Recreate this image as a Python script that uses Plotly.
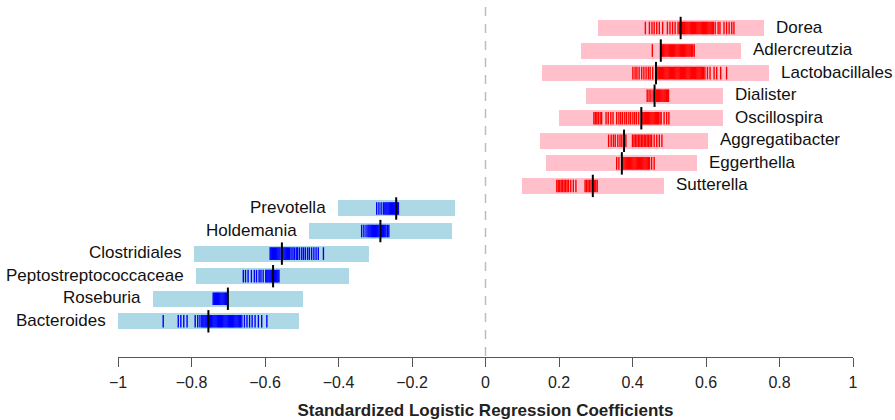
import plotly.graph_objects as go

# ---------------- data ----------------
taxa = ["Dorea", "Adlercreutzia", "Lactobacillales", "Dialister", "Oscillospira",
        "Aggregatibacter", "Eggerthella", "Sutterella", "Prevotella", "Holdemania",
        "Clostridiales", "Peptostreptococcaceae", "Roseburia", "Bacteroides"]

ci_low = [0.305, 0.259, 0.155, 0.273, 0.200, 0.147, 0.165, 0.099,
          -0.402, -0.480, -0.792, -0.789, -0.906, -0.999]
ci_high = [0.758, 0.694, 0.772, 0.645, 0.645, 0.606, 0.576, 0.485,
           -0.082, -0.091, -0.317, -0.371, -0.497, -0.508]
median = [0.531, 0.477, 0.464, 0.460, 0.424, 0.377, 0.371, 0.292,
          -0.243, -0.286, -0.554, -0.578, -0.701, -0.754]

rug_dorea = [0.435, 0.446, 0.453, 0.459, 0.466, 0.473, 0.482, 0.495, 0.502, 0.509, 0.516, 0.524,
             0.528, 0.533, 0.536, 0.539, 0.542, 0.545, 0.548, 0.551, 0.554, 0.557, 0.560, 0.563,
             0.566, 0.569, 0.572, 0.575, 0.578, 0.581, 0.584, 0.587, 0.590, 0.593, 0.596, 0.599,
             0.602, 0.605, 0.608, 0.611, 0.614, 0.617, 0.620, 0.625, 0.633, 0.638, 0.649, 0.656,
             0.663, 0.670, 0.676]
rug_adlercreutzia = [0.454, 0.479, 0.482, 0.485, 0.488, 0.491, 0.494, 0.497, 0.500, 0.503, 0.506,
                     0.509, 0.512, 0.515, 0.518, 0.521, 0.524, 0.527, 0.530, 0.533, 0.536, 0.539,
                     0.542, 0.545, 0.548, 0.551, 0.554, 0.557, 0.561, 0.564, 0.568]
rug_lactobacillales = [0.401, 0.407, 0.412, 0.418, 0.425, 0.431, 0.437, 0.443, 0.448, 0.455,
                       0.467, 0.470, 0.473, 0.476, 0.479, 0.482, 0.485, 0.488, 0.491, 0.494,
                       0.497, 0.500, 0.503, 0.506, 0.509, 0.512, 0.515, 0.518, 0.521, 0.524,
                       0.527, 0.530, 0.533, 0.536, 0.539, 0.542, 0.545, 0.548, 0.551, 0.554,
                       0.557, 0.560, 0.563, 0.566, 0.569, 0.572, 0.575, 0.578, 0.581, 0.584,
                       0.587, 0.590, 0.593, 0.597, 0.604, 0.611, 0.622, 0.629, 0.640, 0.656]
rug_dialister = [0.440, 0.445, 0.450, 0.456, 0.465, 0.468, 0.471, 0.474, 0.477, 0.480, 0.483,
                 0.486, 0.489, 0.492, 0.495, 0.498]
rug_oscillospira = [0.295, 0.299, 0.303, 0.307, 0.312, 0.316, 0.328, 0.334, 0.341, 0.347, 0.357,
                    0.363, 0.368, 0.373, 0.379, 0.384, 0.390, 0.395, 0.401, 0.406, 0.411, 0.417,
                    0.426, 0.429, 0.432, 0.435, 0.438, 0.441, 0.444, 0.447, 0.450, 0.453, 0.456,
                    0.459, 0.462, 0.465, 0.468, 0.471, 0.475, 0.478, 0.486, 0.493, 0.499]
rug_aggregatibacter = [0.335, 0.342, 0.348, 0.353, 0.360, 0.366, 0.371, 0.382, 0.400, 0.404,
                       0.408, 0.412, 0.416, 0.420, 0.424, 0.428, 0.432, 0.436, 0.440, 0.444,
                       0.448, 0.452, 0.459, 0.466, 0.473, 0.480]
rug_eggerthella = [0.357, 0.363, 0.374, 0.377, 0.380, 0.383, 0.386, 0.389, 0.392, 0.395, 0.398,
                   0.401, 0.404, 0.407, 0.410, 0.413, 0.416, 0.419, 0.422, 0.425, 0.428, 0.431,
                   0.434, 0.437, 0.440, 0.443, 0.446, 0.452, 0.459]
rug_sutterella = [0.194, 0.198, 0.202, 0.206, 0.210, 0.214, 0.218, 0.222, 0.226, 0.232, 0.239,
                  0.246, 0.271, 0.275, 0.279, 0.283, 0.287, 0.296, 0.300, 0.304]
rug_prevotella = [-0.296, -0.290, -0.284, -0.278, -0.274, -0.271, -0.268, -0.265, -0.262, -0.259,
                  -0.256, -0.253, -0.250, -0.247, -0.244, -0.240, -0.237]
rug_holdemania = [-0.337, -0.331, -0.325, -0.320, -0.317, -0.314, -0.311, -0.308, -0.305, -0.302,
                  -0.299, -0.296, -0.293, -0.290, -0.283, -0.280, -0.277, -0.274, -0.271, -0.267,
                  -0.263]
rug_clostridiales = [-0.586, -0.583, -0.580, -0.577, -0.574, -0.571, -0.568, -0.565, -0.562,
                     -0.559, -0.551, -0.548, -0.545, -0.542, -0.539, -0.536, -0.533, -0.529,
                     -0.524, -0.520, -0.515, -0.511, -0.506, -0.500, -0.495, -0.490, -0.484,
                     -0.479, -0.473, -0.467, -0.461, -0.455, -0.441]
rug_peptostreptococcaceae = [-0.659, -0.653, -0.646, -0.637, -0.629, -0.623, -0.616, -0.611,
                             -0.605, -0.598, -0.595, -0.592, -0.589, -0.586, -0.583, -0.580,
                             -0.577, -0.574, -0.571, -0.568, -0.565, -0.562]
rug_roseburia = [-0.741, -0.738, -0.735, -0.732, -0.729, -0.726, -0.723, -0.720, -0.717, -0.714,
                 -0.711, -0.708, -0.705]
rug_bacteroides = [-0.877, -0.836, -0.829, -0.821, -0.812, -0.790, -0.783, -0.777, -0.772, -0.769,
                   -0.766, -0.763, -0.760, -0.757, -0.751, -0.748, -0.745, -0.742, -0.739, -0.736,
                   -0.733, -0.730, -0.727, -0.724, -0.721, -0.718, -0.715, -0.712, -0.709, -0.706,
                   -0.703, -0.700, -0.697, -0.694, -0.691, -0.688, -0.685, -0.682, -0.679, -0.676,
                   -0.673, -0.670, -0.667, -0.663, -0.656, -0.649, -0.642, -0.635, -0.627, -0.618,
                   -0.609, -0.595]

rugs = [rug_dorea, rug_adlercreutzia, rug_lactobacillales, rug_dialister, rug_oscillospira,
        rug_aggregatibacter, rug_eggerthella, rug_sutterella, rug_prevotella, rug_holdemania,
        rug_clostridiales, rug_peptostreptococcaceae, rug_roseburia, rug_bacteroides]

x_ticks = [-1, -0.8, -0.6, -0.4, -0.2, 0, 0.2, 0.4, 0.6, 0.8, 1]
x_title = "Standardized Logistic Regression Coefficients"

# ---------------- styles ----------------
FONT = "Liberation Sans, Arial, Helvetica, sans-serif"
POS_BAR, NEG_BAR = "#FFC0CB", "#ADD8E6"
POS_RUG, NEG_RUG = "#FF0000", "#0000FF"

n = len(taxa)
rows = [n - i for i in range(n)]  # top row = highest y
is_pos = [m > 0 for m in median]

fig = go.Figure()

# interval bars
fig.add_trace(go.Bar(
    orientation="h",
    y=rows,
    base=ci_low,
    x=[h - l for l, h in zip(ci_low, ci_high)],
    width=0.71,
    marker=dict(color=[POS_BAR if p else NEG_BAR for p in is_pos], line=dict(width=0)),
    hoverinfo="skip",
    showlegend=False,
))

# rug ticks
for sign, col in [(True, POS_RUG), (False, NEG_RUG)]:
    xs, ys = [], []
    for r, vals, p in zip(rows, rugs, is_pos):
        if p == sign:
            xs += vals
            ys += [r] * len(vals)
    fig.add_trace(go.Scatter(
        x=xs, y=ys, mode="markers",
        marker=dict(symbol="line-ns", size=9, line=dict(width=1.4, color=col), color=col),
        hoverinfo="skip", showlegend=False,
    ))

# medians
fig.add_trace(go.Scatter(
    x=median, y=rows, mode="markers",
    marker=dict(symbol="line-ns", size=16, line=dict(width=2, color="black"), color="black"),
    hoverinfo="skip", showlegend=False,
))

# labels
for r, name, lo, hi, p in zip(rows, taxa, ci_low, ci_high, is_pos):
    fig.add_annotation(
        x=hi if p else lo, y=r, xref="x", yref="y",
        text=name, showarrow=False,
        xanchor="left" if p else "right", yanchor="middle",
        xshift=10 if p else -10, yshift=1,
        font=dict(family=FONT, size=17, color="#111111"),
    )

# zero reference line
fig.add_shape(type="line", xref="x", yref="paper", x0=0, x1=0, y0=1, y1=0,
              line=dict(color="#BDBDBD", width=1.5, dash="9px,8px"), layer="below")

fig.update_layout(
    width=895, height=420,
    margin=dict(l=118, r=42, t=7, b=63),
    paper_bgcolor="white", plot_bgcolor="white",
    font=dict(family=FONT, color="#222222"),
    showlegend=False,
    bargap=0,
    xaxis=dict(
        range=[-1, 1],
        tickvals=x_ticks,
        ticks="outside", ticklen=9, tickwidth=1, tickcolor="#555555",
        ticklabelstandoff=2,
        showline=True, linecolor="#555555", linewidth=1,
        showgrid=False, zeroline=False,
        tickfont=dict(family=FONT, size=16, color="#222222"),
        title=dict(text="<b>" + x_title + "</b>", standoff=13,
                   font=dict(family=FONT, size=17, color="#222222")),
        automargin=False,
        fixedrange=True,
    ),
    yaxis=dict(
        range=[-0.583, 14.931],
        visible=False, fixedrange=True,
    ),
)

fig.write_html("out.html")
